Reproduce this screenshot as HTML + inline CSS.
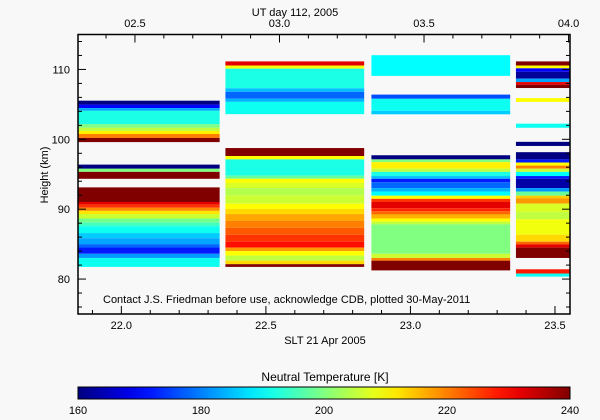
<!DOCTYPE html>
<html><head><meta charset="utf-8">
<style>
html,body{margin:0;padding:0;background:#f8f8f8;}
svg{display:block;font-family:"Liberation Sans",sans-serif;}
</style></head>
<body>
<svg id="chart" width="600" height="420" viewBox="0 0 600 420"></svg>
<script>
// ---- data: columns of height bands [bottomKm, topKm, temperatureK] ----
const columnStarts = [21.85, 22.36, 22.865, 23.365];
const columnEnds   = [22.34, 22.84, 23.345, 23.552];
const col1Bands = [[104.97,105.53,160],[104.47,104.97,170],[104.08,104.47,183],[102.15,104.08,192],[101.65,102.15,200],[101.2,101.65,205],[100.76,101.2,211],[100.2,100.76,220],[99.6,100.2,240],
 [95.79,96.38,160],[95.34,95.79,200],[94.35,95.34,240],[91.03,93.12,240],[90.65,91.03,232],[90.2,90.65,226],[89.76,90.2,219],[89.31,89.76,212],[88.67,89.31,206],[88.07,88.67,199],[87.57,88.07,195],[86.58,87.57,191],[85.85,86.58,186],[85.0,85.85,183],[84.51,85.0,178],[83.62,84.51,172],[83.02,83.62,182],[81.74,83.02,191]];
const col2Bands = [[110.56,111.15,232],[110.11,110.56,209],[107.3,110.11,192],[106.8,107.3,185],[105.8,106.8,178],[105.36,105.8,184],[103.6,105.36,191],
 [97.61,98.75,240],[97.13,97.61,210],[94.8,97.13,192],[94.35,94.8,198],[93.76,94.35,210],[93.02,93.76,207],[92.0,93.02,204],[90.79,92.0,206],[90.04,90.79,210],[89.3,90.04,213],[88.32,89.3,217],[87.33,88.32,220],[86.34,87.33,223],[85.35,86.34,226],[84.5,85.35,229],[84.0,84.5,218],[83.36,84.0,210],[82.63,83.36,205],[82.13,82.63,213],[81.74,82.13,240]];
const col3Bands = [[109.08,112.04,190],[105.8,106.4,176],[104.08,105.8,191],[103.58,104.08,186],
 [97.13,97.72,160],[96.73,97.13,200],[95.8,96.73,211],[95.34,95.8,205],[94.74,95.34,192],[94.35,94.74,185],[93.85,94.35,172],[93.02,93.85,178],[92.52,93.02,184],[91.93,92.52,190],[91.48,91.93,210],[91.03,91.48,226],[90.14,91.03,232],[89.7,90.14,227],[89.25,89.7,222],[88.67,89.25,216],[88.22,88.67,210],[87.82,88.22,205],[83.62,87.82,200],[83.02,83.62,206],[82.63,83.02,220],[81.24,82.63,240]];
const col4Bands = [[110.56,111.15,240],[110.16,110.56,210],[109.67,110.16,170],[108.68,109.67,162],[108.19,108.68,183],[107.79,108.19,232],[107.34,107.79,240],[105.36,105.9,210],[101.65,102.24,191],
 [99.05,99.64,160],[97.13,98.16,160],[96.68,97.13,172],[96.24,96.68,210],[95.8,96.24,220],[95.34,95.8,206],[94.74,95.34,190],[94.35,94.74,172],[93.02,94.35,163],[92.52,93.02,182],[91.93,92.52,198],[91.54,91.93,214],[90.79,91.54,218],[89.55,90.79,207],[88.56,89.55,205],[86.34,88.56,209],[85.35,86.34,213],[84.96,85.35,222],[84.5,84.96,232],[83.02,84.5,240],[80.79,81.4,228],[80.35,80.79,191]];
const allColumns = [col1Bands, col2Bands, col3Bands, col4Bands];
const yTickLabels = [80, 90, 100, 110];
const xTickLabels = [22.0, 22.5, 23.0, 23.5];
const topTickLabels = ["02.5", "03.0", "03.5", "04.0"];
const colorbarTicks = [160, 180, 200, 220, 240];

// ---- layout ----
const L=78, R=570, T=34.5, B=314;
const xMin=21.85, xMax=23.552, yMin=75, yMax=115;
const utOffset=4.453;
const tMin=160, tMax=240;
const X=v=>L+(v-xMin)/(xMax-xMin)*(R-L);
const Y=v=>B-(v-yMin)/(yMax-yMin)*(B-T);
const NS="http://www.w3.org/2000/svg";
const svg=document.getElementById('chart');
function mk(tag,attrs,parent){const e=document.createElementNS(NS,tag);for(const k in attrs)e.setAttribute(k,attrs[k]);(parent||svg).appendChild(e);return e;}
function jet(t){let v=Math.max(0,Math.min(1,(t-tMin)/(tMax-tMin)));
 const f=x=>Math.round(255*Math.max(0,Math.min(1,x)));
 const r=f(Math.min(4*v-1.5,-4*v+4.5)), g=f(Math.min(4*v-0.5,-4*v+3.5)), b=f(Math.min(4*v+0.5,-4*v+2.5));
 return `rgb(${r},${g},${b})`;}

// heatmap bands
const gH=mk('g',{});


allColumns.forEach((bands,ci)=>{
 bands.forEach(b=>{
  const r=mk('rect',{x:X(columnStarts[ci]),y:Y(b[1]),width:X(columnEnds[ci])-X(columnStarts[ci]),height:Y(b[0])-Y(b[1]),fill:jet(b[2])},gH);
  
  
 });
});

// axes frame
const frame=mk('rect',{x:L,y:T,width:R-L,height:B-T,fill:'none',stroke:'#000','stroke-width':1.5});



const gA=mk('g',{stroke:'#000','stroke-width':1});
// y ticks
for(let v=76;v<=114;v+=2){
 const major=v%10===0, len=major?8:4;
 mk('line',{x1:L,x2:L+len,y1:Y(v),y2:Y(v)},gA);
 mk('line',{x1:R,x2:R-len,y1:Y(v),y2:Y(v)},gA);
}
// x ticks bottom
for(let i=219;i<=235;i++){
 const v=i/10; if(v<xMin||v>xMax)continue;
 const major=i%5===0, len=major?8:4;
 mk('line',{x1:X(v),x2:X(v),y1:B,y2:B-len},gA);
}
// top ticks (UT)
for(let i=24;i<=40;i++){
 const v=i/10-utOffset+24; if(v<xMin||v>xMax)continue;
 const major=i%5===0, len=major?8:4;
 mk('line',{x1:X(v),x2:X(v),y1:T,y2:T+len},gA);
}
function txt(s,x,y,attrs,name){const e=mk('text',Object.assign({x:x,y:y,'font-size':11,fill:'#000'},attrs||{}));e.textContent=s;return e;}
yTickLabels.forEach(v=>txt(String(v),70,Y(v)+4,{'text-anchor':'end'},'y-tick-label'));
xTickLabels.forEach(v=>txt(v.toFixed(1),X(v),329,{'text-anchor':'middle'},'x-tick-label'));
topTickLabels.forEach(s=>{const v=parseFloat(s)-utOffset+24;txt(s,X(v),27,{'text-anchor':'middle'},'top-tick-label');});
txt('UT day 112, 2005',295,16,{'text-anchor':'middle'},'top-axis-title');
txt('SLT 21 Apr 2005',325,344,{'text-anchor':'middle'},'x-axis-title');
txt('Height (km)',0,0,{'text-anchor':'middle',transform:'translate(48,175) rotate(-90)'},'y-axis-title');
txt('Contact J.S. Friedman before use, acknowledge CDB, plotted 30-May-2011',103,303,{},'credit-note');

// colorbar
const defs=mk('defs',{});
const grad=mk('linearGradient',{id:'jetg',x1:0,x2:1,y1:0,y2:0},defs);
for(let i=0;i<=20;i++){mk('stop',{offset:i/20,'stop-color':jet(tMin+(tMax-tMin)*i/20)},grad);}
const cb=mk('rect',{x:L,y:387,width:R-L,height:12,fill:'url(#jetg)',stroke:'#000','stroke-width':1});


const CX=t=>L+(t-tMin)/(tMax-tMin)*(R-L);
for(let t=170;t<240;t+=10){mk('line',{x1:CX(t),x2:CX(t),y1:387,y2:391},gA);mk('line',{x1:CX(t),x2:CX(t),y1:399,y2:395},gA);}
colorbarTicks.forEach(t=>txt(String(t),CX(t),414,{'text-anchor':'middle'},'colorbar-tick-label'));
txt('Neutral Temperature [K]',325,381,{'text-anchor':'middle','font-size':12},'colorbar-title');
</script>
</body></html>
